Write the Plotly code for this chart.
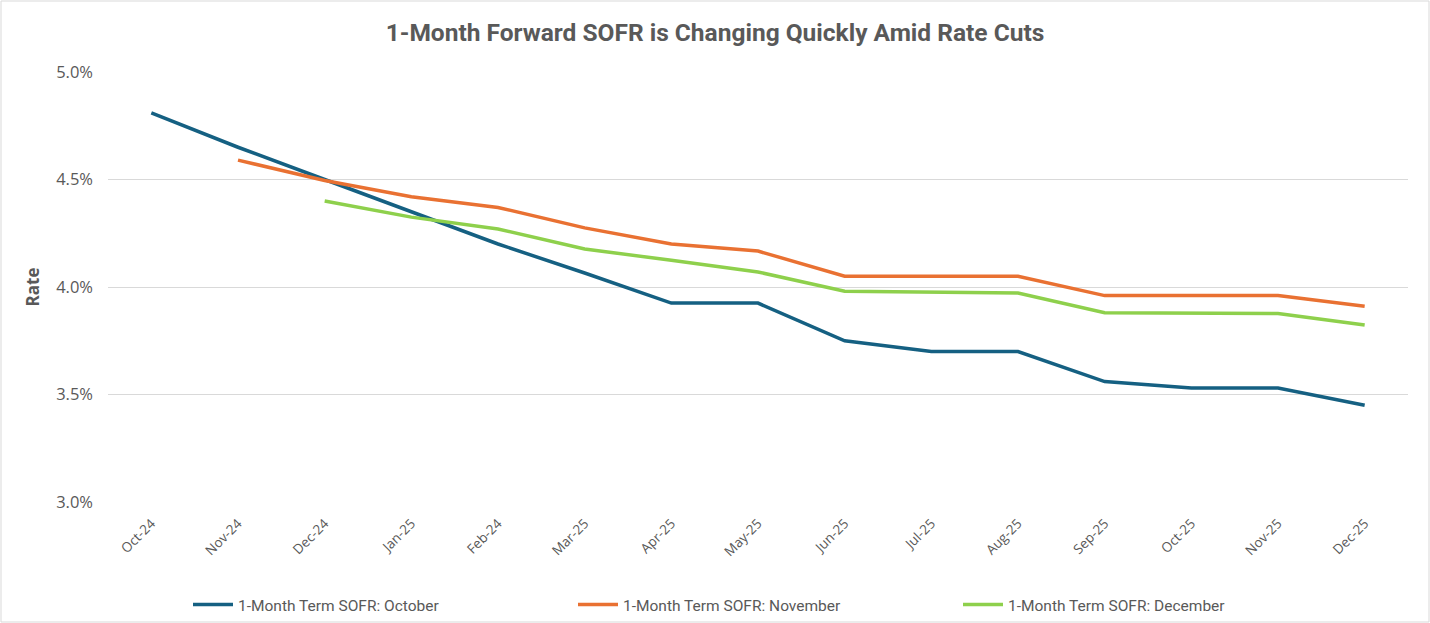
import plotly.graph_objects as go

months = ["Oct-24", "Nov-24", "Dec-24", "Jan-25", "Feb-24", "Mar-25", "Apr-25", "May-25",
          "Jun-25", "Jul-25", "Aug-25", "Sep-25", "Oct-25", "Nov-25", "Dec-25"]

october = [4.81, 4.65, 4.50, 4.35, 4.20, 4.065, 3.925, 3.925, 3.75, 3.70, 3.70, 3.56, 3.53, 3.53, 3.45]
november = [None, 4.59, 4.495, 4.42, 4.37, 4.275, 4.20, 4.167, 4.05, 4.05, 4.05, 3.96, 3.96, 3.96, 3.91]
december = [None, None, 4.40, 4.325, 4.27, 4.177, 4.124, 4.07, 3.98, 3.977, 3.972, 3.88, 3.877, 3.877, 3.823]

series_names = ["1-Month Term SOFR: October", "1-Month Term SOFR: November", "1-Month Term SOFR: December"]
colors = ["#156082", "#E97132", "#8ED04C"]

fig = go.Figure()
for name, vals, col in zip(series_names, [october, november, december], colors):
    fig.add_trace(go.Scatter(
        x=months, y=[v / 100 if v is not None else None for v in vals],
        mode="lines", name=name,
        line=dict(color=col, width=3.5),
        connectgaps=False,
    ))

W, H = 1430, 623
ml, mr, mt, mb = 108, 22, 72, 121
pw, ph = W - ml - mr, H - mt - mb

fig.update_layout(
    width=W, height=H,
    margin=dict(l=ml, r=mr, t=mt, b=mb, autoexpand=False),
    paper_bgcolor="white", plot_bgcolor="white",
    font=dict(family="Open Sans, Liberation Sans, Arial, sans-serif", color="#595959"),
    title=dict(
        text="<b>1-Month Forward SOFR is Changing Quickly Amid Rate Cuts</b>",
        x=0.5, xref="container", xanchor="center", y=1 - 32 / H, yanchor="middle",
        font=dict(family="Roboto, sans-serif", size=24.5, color="#595959"),
    ),
    xaxis=dict(
        type="category", range=[-0.5, 14.5], automargin=False,
        showgrid=False, showline=False, zeroline=False,
        tickangle=-45, tickfont=dict(size=13.5, color="#595959"),
        ticks="", ticklabelstandoff=10,
    ),
    yaxis=dict(
        range=[0.03, 0.05], dtick=0.005, tickformat=".1%", automargin=False,
        showgrid=True, gridcolor="#D9D9D9", gridwidth=1,
        zeroline=False, showline=False,
        tickfont=dict(size=16.5, color="#595959"), ticklabelstandoff=14,
        title=dict(text="<b>Rate</b>", font=dict(size=17, color="#595959"), standoff=12),
    ),
    legend=dict(
        orientation="h", xref="container", yref="container",
        x=188 / W, xanchor="left", y=1 - 605 / H, yanchor="middle",
        bgcolor="rgba(0,0,0,0)",
        font=dict(family="Roboto, sans-serif", size=15.5, color="#595959"),
        entrywidth=330, itemwidth=40,
    ),
    shapes=[dict(
        type="rect", xref="paper", yref="paper",
        x0=-(ml - 1) / pw, x1=1 + (mr - 1) / pw,
        y0=-(mb - 1) / ph, y1=1 + (mt - 1) / ph,
        line=dict(color="#D9D9D9", width=1), fillcolor="rgba(0,0,0,0)", layer="below",
    )],
)

fig.write_html(
    "out.html",
    config={"displayModeBar": False},
    post_script="document.body.style.margin='0';document.body.style.overflow='hidden';",
)
